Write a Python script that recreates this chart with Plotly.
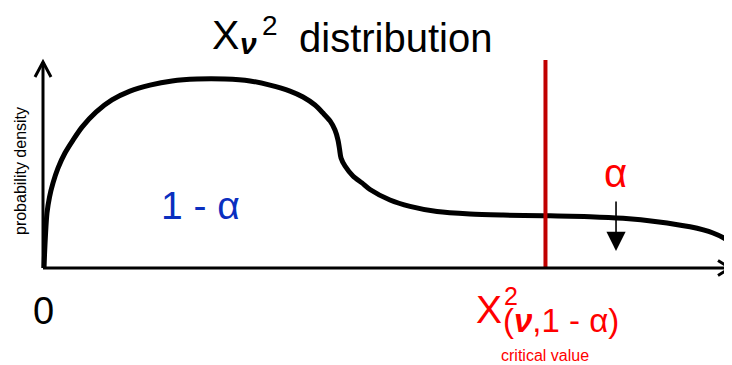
import plotly.graph_objects as go

# Schematic chi-square density curve (data units: x 0..10, y 0..1)
curve_x = [0.015, 0.022, 0.036, 0.058, 0.095, 0.146, 0.218, 0.320, 0.437, 0.568,
           0.771, 1.004, 1.266, 1.557, 1.878, 2.242, 2.649, 3.013, 3.304, 3.595,
           3.785, 3.959, 4.076, 4.178, 4.250, 4.294, 4.316, 4.338, 4.396, 4.512,
           4.643, 4.760, 5.051, 5.342, 5.735, 6.215, 6.696, 7.278, 7.962, 8.443,
           8.937, 9.418, 9.753, 9.956, 10.058, 10.146]
curve_y = [0.0, 0.063, 0.160, 0.267, 0.345, 0.413, 0.485, 0.558, 0.621, 0.684,
           0.757, 0.816, 0.859, 0.888, 0.908, 0.917, 0.917, 0.908, 0.888, 0.859,
           0.830, 0.791, 0.752, 0.714, 0.670, 0.621, 0.578, 0.534, 0.495, 0.447,
           0.413, 0.381, 0.330, 0.299, 0.274, 0.262, 0.257, 0.254, 0.249, 0.241,
           0.225, 0.200, 0.170, 0.136, 0.102, 0.058]
critical_x = 7.314
critical_top = 1.01
alpha_arrow_x = 8.341
alpha_arrow_y = [0.330, 0.083]
axis_x_max = 10.0
axis_y_max = 1.0

# page geometry (the page body has an 8px margin, so the figure is shifted by it)
PAGE_W, PAGE_H = 732, 365
OFF = 8
W, H = PAGE_W - OFF, PAGE_H - OFF
PX_X = 68.7   # px per x unit
PX_Y = 206.0  # px per y unit
X0_PX, Y0_PX = 43, 268  # page px of the origin

FONT = "Liberation Sans, Arial, sans-serif"
RED = "#FF0000"
DARK_RED = "#C00000"
BLUE = "#0A2FBF"

fig = go.Figure()
fig.add_trace(go.Scatter(x=curve_x, y=curve_y, mode="lines",
                         line=dict(color="black", width=5, shape="spline", smoothing=0.8),
                         hoverinfo="skip", showlegend=False))
fig.add_trace(go.Scatter(x=[critical_x, critical_x], y=[0, critical_top], mode="lines",
                         line=dict(color=DARK_RED, width=4),
                         hoverinfo="skip", showlegend=False))

# arrowhead sizes (px converted to data units)
xa_back, xa_side = 12 / PX_X, 7.5 / PX_Y
ya_back, ya_side = 15 / PX_Y, 8 / PX_X
shapes = [
    dict(type="line", x0=0, y0=0, x1=axis_x_max, y1=0, line=dict(color="black", width=3)),
    dict(type="line", x0=0, y0=0, x1=0, y1=axis_y_max, line=dict(color="black", width=3)),
    dict(type="path",
         path=f"M {axis_x_max-xa_back},{xa_side} L {axis_x_max},0 L {axis_x_max-xa_back},{-xa_side}",
         line=dict(color="black", width=3)),
    dict(type="path",
         path=f"M {-ya_side},{axis_y_max-ya_back} L 0,{axis_y_max} L {ya_side},{axis_y_max-ya_back}",
         line=dict(color="black", width=3)),
]


def px(xp):
    return (xp - OFF) / W


def py(yp):
    return 1 - (yp - OFF) / H


def label(text, x, y, size, color="black", xanchor="center", angle=0):
    return dict(x=px(x), y=py(y), xref="paper", yref="paper", text=text,
                textangle=angle, font=dict(family=FONT, size=size, color=color),
                showarrow=False, xanchor=xanchor, yanchor="middle")


annotations = [
    # title: X, subscript nu, superscript 2, "distribution"
    label("X", 210, 35, 41, xanchor="left"),
    label("<b><i>ν</i></b>", 238, 44, 30, xanchor="left"),
    label("2", 260, 25, 28, xanchor="left"),
    label("distribution", 297, 37.5, 40, xanchor="left"),
    label("probability density", 21, 171, 16, angle=-90),
    label("1 - α", 200, 205, 39, color=BLUE),
    label("α", 615, 173, 40, color=RED),
    dict(x=alpha_arrow_x, y=alpha_arrow_y[1], xref="x", yref="y",
         ax=alpha_arrow_x, ay=alpha_arrow_y[0], axref="x", ayref="y",
         text="", showarrow=True, arrowhead=2, arrowsize=2.4, arrowwidth=1.6,
         arrowcolor="black"),
    label("0", 43, 311, 38),
    label("X", 489, 309, 39, color=RED),
    label("2", 502, 296, 25, color=RED, xanchor="left"),
    label("(<b><i>ν</i></b>,1 - α)", 501, 320, 33, color=RED, xanchor="left"),
    label("critical value", 545, 355, 16, color=RED),
]

fig.update_layout(
    width=W, height=H,
    margin=dict(l=0, r=0, t=0, b=0, pad=0),
    paper_bgcolor="white", plot_bgcolor="white",
    xaxis=dict(range=[(OFF - X0_PX) / PX_X, (PAGE_W - X0_PX) / PX_X],
               visible=False, fixedrange=True),
    yaxis=dict(range=[(Y0_PX - PAGE_H) / PX_Y, (Y0_PX - OFF) / PX_Y],
               visible=False, fixedrange=True),
    shapes=shapes, annotations=annotations, showlegend=False,
)

fig.write_html("out.html")
